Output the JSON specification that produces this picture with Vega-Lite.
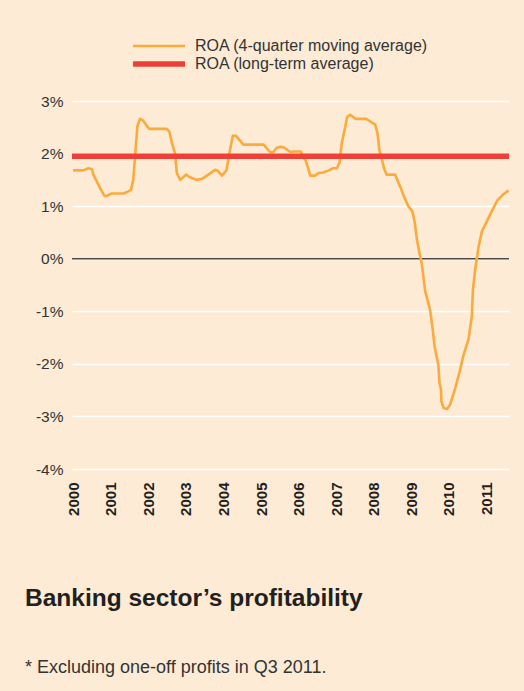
{
  "$schema": "https://vega.github.io/schema/vega-lite/v6.json",
  "width": 437,
  "height": 368,
  "autosize": {"type": "none"},
  "padding": {"left": 72, "top": 101, "right": 15, "bottom": 222},
  "background": "#FDEBD5",
  "config": {
    "view": {"stroke": null},
    "font": "Liberation Sans"
  },
  "title": {
    "text": "Banking sector’s profitability",
    "subtitle": "* Excluding one-off profits in Q3 2011.",
    "orient": "bottom",
    "anchor": "start",
    "frame": "group",
    "dx": -47,
    "offset": 72,
    "fontSize": 24.5,
    "fontWeight": "bold",
    "color": "#231F20",
    "subtitleFontSize": 18,
    "subtitleColor": "#333333",
    "subtitlePadding": 47,
    "baseline": "top"
  },
  "datasets": {
    "roa": [
      {"year": 2000.0, "value": 1.68, "series": "ROA (4-quarter moving average)"},
      {"year": 2000.27, "value": 1.68, "series": "ROA (4-quarter moving average)"},
      {"year": 2000.41, "value": 1.72, "series": "ROA (4-quarter moving average)"},
      {"year": 2000.5, "value": 1.7, "series": "ROA (4-quarter moving average)"},
      {"year": 2000.54, "value": 1.6, "series": "ROA (4-quarter moving average)"},
      {"year": 2000.63, "value": 1.47, "series": "ROA (4-quarter moving average)"},
      {"year": 2000.72, "value": 1.34, "series": "ROA (4-quarter moving average)"},
      {"year": 2000.83, "value": 1.2, "series": "ROA (4-quarter moving average)"},
      {"year": 2000.88, "value": 1.19, "series": "ROA (4-quarter moving average)"},
      {"year": 2001.03, "value": 1.24, "series": "ROA (4-quarter moving average)"},
      {"year": 2001.34, "value": 1.24, "series": "ROA (4-quarter moving average)"},
      {"year": 2001.47, "value": 1.28, "series": "ROA (4-quarter moving average)"},
      {"year": 2001.54, "value": 1.31, "series": "ROA (4-quarter moving average)"},
      {"year": 2001.6, "value": 1.5, "series": "ROA (4-quarter moving average)"},
      {"year": 2001.65, "value": 1.95, "series": "ROA (4-quarter moving average)"},
      {"year": 2001.71, "value": 2.52, "series": "ROA (4-quarter moving average)"},
      {"year": 2001.78, "value": 2.66, "series": "ROA (4-quarter moving average)"},
      {"year": 2001.86, "value": 2.63, "series": "ROA (4-quarter moving average)"},
      {"year": 2002.02, "value": 2.47, "series": "ROA (4-quarter moving average)"},
      {"year": 2002.49, "value": 2.47, "series": "ROA (4-quarter moving average)"},
      {"year": 2002.56, "value": 2.42, "series": "ROA (4-quarter moving average)"},
      {"year": 2002.63, "value": 2.2, "series": "ROA (4-quarter moving average)"},
      {"year": 2002.71, "value": 2.01, "series": "ROA (4-quarter moving average)"},
      {"year": 2002.76, "value": 1.63, "series": "ROA (4-quarter moving average)"},
      {"year": 2002.85, "value": 1.5, "series": "ROA (4-quarter moving average)"},
      {"year": 2003.01, "value": 1.6, "series": "ROA (4-quarter moving average)"},
      {"year": 2003.11, "value": 1.55, "series": "ROA (4-quarter moving average)"},
      {"year": 2003.29, "value": 1.5, "series": "ROA (4-quarter moving average)"},
      {"year": 2003.43, "value": 1.52, "series": "ROA (4-quarter moving average)"},
      {"year": 2003.56, "value": 1.58, "series": "ROA (4-quarter moving average)"},
      {"year": 2003.78, "value": 1.69, "series": "ROA (4-quarter moving average)"},
      {"year": 2003.84, "value": 1.68, "series": "ROA (4-quarter moving average)"},
      {"year": 2003.96, "value": 1.58, "series": "ROA (4-quarter moving average)"},
      {"year": 2004.08, "value": 1.68, "series": "ROA (4-quarter moving average)"},
      {"year": 2004.16, "value": 2.01, "series": "ROA (4-quarter moving average)"},
      {"year": 2004.25, "value": 2.34, "series": "ROA (4-quarter moving average)"},
      {"year": 2004.33, "value": 2.34, "series": "ROA (4-quarter moving average)"},
      {"year": 2004.53, "value": 2.17, "series": "ROA (4-quarter moving average)"},
      {"year": 2005.07, "value": 2.17, "series": "ROA (4-quarter moving average)"},
      {"year": 2005.14, "value": 2.11, "series": "ROA (4-quarter moving average)"},
      {"year": 2005.24, "value": 2.03, "series": "ROA (4-quarter moving average)"},
      {"year": 2005.32, "value": 2.02, "series": "ROA (4-quarter moving average)"},
      {"year": 2005.42, "value": 2.11, "series": "ROA (4-quarter moving average)"},
      {"year": 2005.54, "value": 2.13, "series": "ROA (4-quarter moving average)"},
      {"year": 2005.62, "value": 2.11, "series": "ROA (4-quarter moving average)"},
      {"year": 2005.78, "value": 2.03, "series": "ROA (4-quarter moving average)"},
      {"year": 2005.88, "value": 2.04, "series": "ROA (4-quarter moving average)"},
      {"year": 2006.06, "value": 2.04, "series": "ROA (4-quarter moving average)"},
      {"year": 2006.13, "value": 1.92, "series": "ROA (4-quarter moving average)"},
      {"year": 2006.18, "value": 1.88, "series": "ROA (4-quarter moving average)"},
      {"year": 2006.24, "value": 1.76, "series": "ROA (4-quarter moving average)"},
      {"year": 2006.31, "value": 1.58, "series": "ROA (4-quarter moving average)"},
      {"year": 2006.44, "value": 1.58, "series": "ROA (4-quarter moving average)"},
      {"year": 2006.53, "value": 1.63, "series": "ROA (4-quarter moving average)"},
      {"year": 2006.66, "value": 1.64, "series": "ROA (4-quarter moving average)"},
      {"year": 2006.8, "value": 1.68, "series": "ROA (4-quarter moving average)"},
      {"year": 2006.92, "value": 1.72, "series": "ROA (4-quarter moving average)"},
      {"year": 2007.02, "value": 1.72, "series": "ROA (4-quarter moving average)"},
      {"year": 2007.09, "value": 1.83, "series": "ROA (4-quarter moving average)"},
      {"year": 2007.15, "value": 2.2, "series": "ROA (4-quarter moving average)"},
      {"year": 2007.24, "value": 2.5, "series": "ROA (4-quarter moving average)"},
      {"year": 2007.29, "value": 2.69, "series": "ROA (4-quarter moving average)"},
      {"year": 2007.37, "value": 2.74, "series": "ROA (4-quarter moving average)"},
      {"year": 2007.52, "value": 2.66, "series": "ROA (4-quarter moving average)"},
      {"year": 2007.8, "value": 2.66, "series": "ROA (4-quarter moving average)"},
      {"year": 2007.91, "value": 2.61, "series": "ROA (4-quarter moving average)"},
      {"year": 2008.04, "value": 2.55, "series": "ROA (4-quarter moving average)"},
      {"year": 2008.1, "value": 2.39, "series": "ROA (4-quarter moving average)"},
      {"year": 2008.15, "value": 2.07, "series": "ROA (4-quarter moving average)"},
      {"year": 2008.22, "value": 1.88, "series": "ROA (4-quarter moving average)"},
      {"year": 2008.28, "value": 1.71, "series": "ROA (4-quarter moving average)"},
      {"year": 2008.34, "value": 1.6, "series": "ROA (4-quarter moving average)"},
      {"year": 2008.57, "value": 1.6, "series": "ROA (4-quarter moving average)"},
      {"year": 2008.66, "value": 1.44, "series": "ROA (4-quarter moving average)"},
      {"year": 2008.7, "value": 1.38, "series": "ROA (4-quarter moving average)"},
      {"year": 2008.8, "value": 1.19, "series": "ROA (4-quarter moving average)"},
      {"year": 2008.92, "value": 1.0, "series": "ROA (4-quarter moving average)"},
      {"year": 2009.03, "value": 0.9, "series": "ROA (4-quarter moving average)"},
      {"year": 2009.09, "value": 0.7, "series": "ROA (4-quarter moving average)"},
      {"year": 2009.15, "value": 0.36, "series": "ROA (4-quarter moving average)"},
      {"year": 2009.22, "value": 0.1, "series": "ROA (4-quarter moving average)"},
      {"year": 2009.28, "value": -0.1, "series": "ROA (4-quarter moving average)"},
      {"year": 2009.37, "value": -0.62, "series": "ROA (4-quarter moving average)"},
      {"year": 2009.5, "value": -0.97, "series": "ROA (4-quarter moving average)"},
      {"year": 2009.57, "value": -1.35, "series": "ROA (4-quarter moving average)"},
      {"year": 2009.62, "value": -1.67, "series": "ROA (4-quarter moving average)"},
      {"year": 2009.72, "value": -2.02, "series": "ROA (4-quarter moving average)"},
      {"year": 2009.75, "value": -2.36, "series": "ROA (4-quarter moving average)"},
      {"year": 2009.79, "value": -2.49, "series": "ROA (4-quarter moving average)"},
      {"year": 2009.8, "value": -2.71, "series": "ROA (4-quarter moving average)"},
      {"year": 2009.86, "value": -2.84, "series": "ROA (4-quarter moving average)"},
      {"year": 2009.95, "value": -2.86, "series": "ROA (4-quarter moving average)"},
      {"year": 2010.03, "value": -2.78, "series": "ROA (4-quarter moving average)"},
      {"year": 2010.17, "value": -2.46, "series": "ROA (4-quarter moving average)"},
      {"year": 2010.3, "value": -2.11, "series": "ROA (4-quarter moving average)"},
      {"year": 2010.39, "value": -1.83, "series": "ROA (4-quarter moving average)"},
      {"year": 2010.52, "value": -1.54, "series": "ROA (4-quarter moving average)"},
      {"year": 2010.61, "value": -1.1, "series": "ROA (4-quarter moving average)"},
      {"year": 2010.64, "value": -0.59, "series": "ROA (4-quarter moving average)"},
      {"year": 2010.7, "value": -0.21, "series": "ROA (4-quarter moving average)"},
      {"year": 2010.79, "value": 0.23, "series": "ROA (4-quarter moving average)"},
      {"year": 2010.88, "value": 0.52, "series": "ROA (4-quarter moving average)"},
      {"year": 2011.01, "value": 0.71, "series": "ROA (4-quarter moving average)"},
      {"year": 2011.14, "value": 0.9, "series": "ROA (4-quarter moving average)"},
      {"year": 2011.29, "value": 1.11, "series": "ROA (4-quarter moving average)"},
      {"year": 2011.44, "value": 1.22, "series": "ROA (4-quarter moving average)"},
      {"year": 2011.59, "value": 1.3, "series": "ROA (4-quarter moving average)"},
      {"year": 1999.97, "value": 1.95, "series": "ROA (long-term average)"},
      {"year": 2011.6, "value": 1.95, "series": "ROA (long-term average)"}
    ],
    "zero": [{"v": 0}]
  },
  "layer": [
    {
      "data": {"name": "zero"},
      "mark": {"type": "rule", "color": "#4A4A4A", "strokeWidth": 1.5},
      "encoding": {
        "y": {"field": "v", "type": "quantitative", "scale": {"domain": [-4, 3]}}
      }
    },
    {
      "data": {"name": "roa"},
      "mark": {"type": "line", "strokeCap": "butt", "strokeJoin": "round"},
      "encoding": {
        "x": {
          "field": "year",
          "type": "quantitative",
          "scale": {"domain": [1999.97, 2011.6], "nice": false, "zero": false},
          "axis": {
            "title": null,
            "values": [2000, 2001, 2002, 2003, 2004, 2005, 2006, 2007, 2008, 2009, 2010, 2011],
            "format": "d",
            "grid": false,
            "domain": false,
            "ticks": false,
            "tickSize": 0,
            "labelAngle": 270,
            "labelAlign": "right",
            "labelBaseline": "middle",
            "labelPadding": 13,
            "labelFontSize": 15,
            "labelFontWeight": "bold",
            "labelColor": "#231F20",
            "labelFont": "Liberation Sans",
            "labelOverlap": false,
            "labelFlush": false
          }
        },
        "y": {
          "field": "value",
          "type": "quantitative",
          "scale": {"domain": [-4, 3], "nice": false},
          "axis": {
            "title": null,
            "values": [-4, -3, -2, -1, 0, 1, 2, 3],
            "labelExpr": "toString(datum.value) + '%'",
            "grid": true,
            "gridColor": "#FFFFFF",
            "gridWidth": 1.5,
            "gridOpacity": 1,
            "domain": false,
            "ticks": false,
            "tickSize": 0,
            "labelPadding": 9,
            "labelFontSize": 15.5,
            "labelColor": "#333333",
            "labelFont": "Liberation Sans"
          }
        },
        "color": {
          "field": "series",
          "type": "nominal",
          "scale": {
            "domain": ["ROA (4-quarter moving average)", "ROA (long-term average)"],
            "range": ["#FBAA3C", "#EE4036"]
          },
          "legend": {
            "title": null,
            "orient": "none",
            "legendX": 79,
            "legendY": -63,
            "direction": "vertical",
            "symbolType": "M-5.2,0H5.2",
            "symbolSize": 100,
            "labelFontSize": 16,
            "labelColor": "#333333",
            "labelFont": "Liberation Sans",
            "labelOffset": 28,
            "labelLimit": 0,
            "rowPadding": -1
          }
        },
        "strokeWidth": {
          "field": "series",
          "type": "nominal",
          "scale": {
            "domain": ["ROA (4-quarter moving average)", "ROA (long-term average)"],
            "range": [2.6, 5.5]
          },
          "legend": {
            "title": null,
            "orient": "none",
            "legendX": 79,
            "legendY": -63,
            "direction": "vertical",
            "symbolType": "M-5.2,0H5.2",
            "symbolSize": 100,
            "labelFontSize": 16,
            "labelColor": "#333333",
            "labelFont": "Liberation Sans",
            "labelOffset": 28,
            "labelLimit": 0,
            "rowPadding": -1
          }
        }
      }
    }
  ]
}
